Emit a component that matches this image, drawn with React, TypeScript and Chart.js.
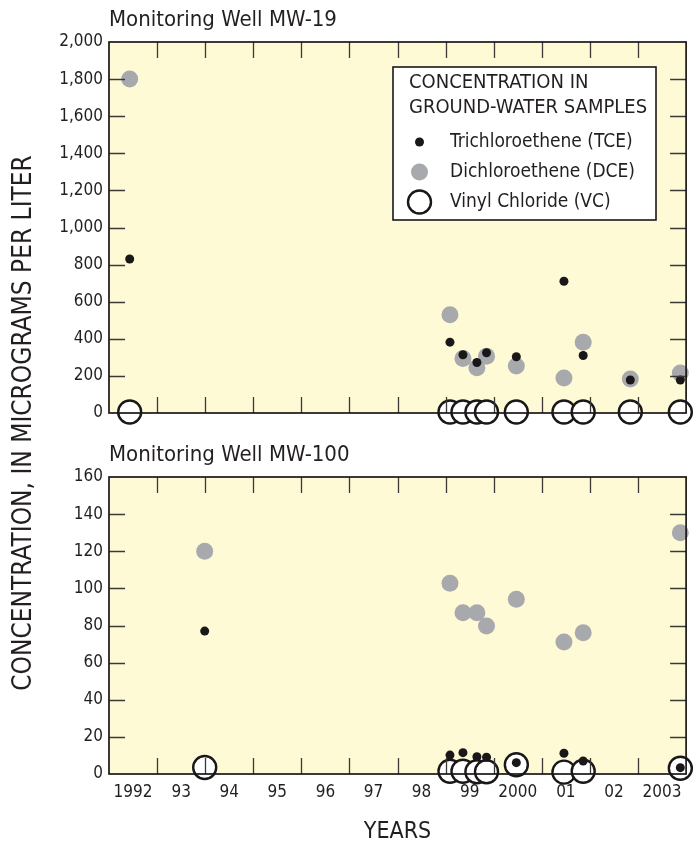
import React, { useEffect, useRef } from 'react';
import { Chart, registerables } from 'chart.js';

Chart.register(...registerables);

// ---------- DATA ----------
const mw19Years = [1992.43, 1999.09, 1999.36, 1999.65, 1999.85, 2000.47, 2001.46, 2001.86, 2002.84, 2003.88];
const mw19TCE = [830, 382, 314, 272, 325, 303, 710, 310, 178, 178];
const mw19DCE = [1800, 530, 294, 244, 306, 253, 189, 382, 183, 215];
const mw19VC = [5, 5, 5, 5, 5, 5, 5, 5, 5, 5];

const mw100Years = [1993.99, 1999.09, 1999.36, 1999.65, 1999.85, 2000.47, 2001.46, 2001.86, 2003.88];
const mw100TCE = [77, 10.2, 11.5, 9.3, 9.0, 6.1, 11.2, 7.0, 3.4];
const mw100DCE = [120, 102.7, 86.9, 86.9, 79.7, 94.1, 71.1, 76.1, 130];
const mw100VC = [3.5, 1.5, 1.5, 1.2, 1.2, 5.0, 1.0, 1.5, 3.1];

const yearBoundaries = [1992, 1993, 1994, 1995, 1996, 1997, 1998, 1999, 2000, 2001, 2002, 2003, 2004];
const xLabelYears = [1992, 1993, 1994, 1995, 1996, 1997, 1998, 1999, 2000, 2001, 2002, 2003];
const xTickLabels = ['1992', '93', '94', '95', '96', '97', '98', '99', '2000', '01', '02', '2003'];
const topYTicks = [0, 200, 400, 600, 800, 1000, 1200, 1400, 1600, 1800, 2000];
const bottomYTicks = [0, 20, 40, 60, 80, 100, 120, 140, 160];

const topTitle = 'Monitoring Well MW-19';
const bottomTitle = 'Monitoring Well MW-100';
const yAxisTitle = 'CONCENTRATION, IN MICROGRAMS PER LITER';
const xAxisTitle = 'YEARS';
const legendHeader = ['CONCENTRATION IN', 'GROUND-WATER SAMPLES'];
const legendLabels = ['Trichloroethene (TCE)', 'Dichloroethene (DCE)', 'Vinyl Chloride (VC)'];

// ---------- STYLE ----------
const FONT = '"Liberation Sans Narrow", "DejaVu Sans Condensed", "Arial Narrow", sans-serif';
const TEXT = '#231f20';
const BLACK = '#1a1718';
const GRAY = '#a7a9ac';
const BG = '#fffad6';
const TICK_LEN = 16;

Chart.defaults.font.family = FONT;
Chart.defaults.color = TEXT;

const fmt = (v: number) => String(v).replace(/\B(?=(\d{3})+(?!\d))/g, ',');
const pts = (xs: number[], ys: number[]) => xs.map((x, i) => ({ x, y: ys[i] }));

const markerStyles = [
  { r: 4.5, fill: BLACK, stroke: BLACK, bw: 0 },
  { r: 8.5, fill: GRAY, stroke: GRAY, bw: 0 },
  { r: 11.5, fill: '#ffffff', stroke: BLACK, bw: 2.4 },
];

function datasets(years: number[], tce: number[], dce: number[], vc: number[]) {
  const series = [tce, dce, vc];
  return series.map((s, i) => ({
    label: legendLabels[i],
    data: pts(years, s),
    pointRadius: markerStyles[i].r,
    pointHoverRadius: markerStyles[i].r,
    backgroundColor: markerStyles[i].fill,
    borderColor: markerStyles[i].stroke,
    borderWidth: markerStyles[i].bw,
    pointBorderWidth: markerStyles[i].bw,
    pointHoverBorderWidth: markerStyles[i].bw,
    clip: false as any,
  }));
}

const makeFramePlugin = (yTicks: number[], title: string) => ({
  id: 'frameTicks',
  beforeDatasetsDraw(chart: any) {
    const { ctx, chartArea: a } = chart;
    ctx.save();
    ctx.fillStyle = BG;
    ctx.fillRect(a.left, a.top, a.right - a.left, a.bottom - a.top);
    ctx.restore();
  },
  afterDatasetsDraw(chart: any) {
    const { ctx, chartArea: a, scales } = chart;
    const x = scales.x;
    const y = scales.y;
    ctx.save();
    ctx.strokeStyle = '#3b3838';
    ctx.lineWidth = 1.3;
    ctx.beginPath();
    for (const yr of yearBoundaries) {
      const px = Math.round(x.getPixelForValue(yr)) + 0.5;
      if (px <= a.left + 2 || px >= a.right - 2) continue;
      ctx.moveTo(px, a.bottom);
      ctx.lineTo(px, a.bottom - TICK_LEN);
      ctx.moveTo(px, a.top);
      ctx.lineTo(px, a.top + TICK_LEN);
    }
    for (const v of yTicks) {
      const py = Math.round(y.getPixelForValue(v)) + 0.5;
      if (py <= a.top + 2 || py >= a.bottom - 2) continue;
      ctx.moveTo(a.left, py);
      ctx.lineTo(a.left + TICK_LEN, py);
      ctx.moveTo(a.right, py);
      ctx.lineTo(a.right - TICK_LEN, py);
    }
    ctx.stroke();
    ctx.strokeStyle = BLACK;
    ctx.lineWidth = 1.7;
    ctx.strokeRect(a.left, a.top, a.right - a.left, a.bottom - a.top);
    // panel title
    ctx.fillStyle = TEXT;
    ctx.font = `22px ${FONT}`;
    ctx.textAlign = 'left';
    ctx.textBaseline = 'middle';
    ctx.fillText(title, a.left, a.top - 22);
    ctx.restore();
  },
});

const topDecorPlugin = {
  id: 'topDecor',
  afterDraw(chart: any) {
    const { ctx } = chart;
    ctx.save();
    // shared vertical axis title
    ctx.translate(24, 423);
    ctx.rotate(-Math.PI / 2);
    ctx.fillStyle = TEXT;
    ctx.font = `26px ${FONT}`;
    ctx.textAlign = 'center';
    ctx.textBaseline = 'middle';
    ctx.fillText(yAxisTitle, 0, 0);
    ctx.restore();

    // legend box
    ctx.save();
    const bx = 393, by = 67, bw = 263, bh = 153;
    ctx.fillStyle = '#ffffff';
    ctx.fillRect(bx, by, bw, bh);
    ctx.strokeStyle = BLACK;
    ctx.lineWidth = 1.6;
    ctx.strokeRect(bx, by, bw, bh);
    ctx.fillStyle = TEXT;
    ctx.font = `20px ${FONT}`;
    ctx.textAlign = 'left';
    ctx.textBaseline = 'middle';
    legendHeader.forEach((t, i) => ctx.fillText(t, 409, 83 + i * 25));
    ctx.font = `19px ${FONT}`;
    legendLabels.forEach((t, i) => {
      const cy = 142 + i * 30;
      const m = markerStyles[i];
      ctx.beginPath();
      ctx.arc(419.5, cy, m.r, 0, Math.PI * 2);
      ctx.fillStyle = m.fill;
      ctx.fill();
      if (m.bw > 0) {
        ctx.lineWidth = m.bw;
        ctx.strokeStyle = m.stroke;
        ctx.stroke();
      }
      ctx.fillStyle = TEXT;
      ctx.fillText(t, 450, cy);
    });
    ctx.restore();
  },
};

const yScale = (min: number, max: number, ticks: number[]) => ({
  type: 'linear' as const,
  min,
  max,
  afterBuildTicks: (s: any) => {
    s.ticks = ticks.map((v) => ({ value: v }));
  },
  ticks: {
    callback: (v: any) => fmt(Number(v)),
    font: { family: FONT, size: 17 },
    color: TEXT,
    padding: 6,
  },
  grid: { display: false, drawTicks: false },
  border: { display: false },
  afterFit: (s: any) => {
    s.width = 109;
  },
});

function topConfig(): any {
  return {
    type: 'scatter',
    data: { datasets: datasets(mw19Years, mw19TCE, mw19DCE, mw19VC) },
    options: {
      responsive: false,
      animation: false,
      devicePixelRatio: 1,
      events: [],
      layout: { padding: { left: 0, right: 13, top: 42, bottom: 432 } },
      plugins: { legend: { display: false }, tooltip: { enabled: false }, title: { display: false } },
      scales: {
        x: {
          type: 'linear',
          min: 1992,
          max: 2004,
          ticks: { display: false },
          grid: { display: false, drawTicks: false },
          border: { display: false },
          afterFit: (s: any) => {
            s.height = 0;
          },
        },
        y: yScale(0, 2000, topYTicks),
      },
    },
    plugins: [makeFramePlugin(topYTicks, topTitle), topDecorPlugin],
  };
}

function bottomConfig(): any {
  return {
    type: 'scatter',
    data: { datasets: datasets(mw100Years, mw100TCE, mw100DCE, mw100VC) },
    options: {
      responsive: false,
      animation: false,
      devicePixelRatio: 1,
      events: [],
      layout: { padding: { left: 0, right: 13, top: 477, bottom: 0 } },
      plugins: { legend: { display: false }, tooltip: { enabled: false }, title: { display: false } },
      scales: {
        x: {
          type: 'linear',
          min: 1992,
          max: 2004,
          afterBuildTicks: (s: any) => {
            s.ticks = xLabelYears.map((y) => ({ value: y + 0.5 }));
          },
          ticks: {
            callback: (_v: any, i: number) => xTickLabels[i],
            font: { family: FONT, size: 17 },
            color: TEXT,
            padding: 8,
            autoSkip: false,
            maxRotation: 0,
          },
          grid: { display: false, drawTicks: false },
          border: { display: false },
          title: {
            display: true,
            text: xAxisTitle,
            font: { family: FONT, size: 23, lineHeight: 1 },
            color: TEXT,
            padding: { top: 0, bottom: 1.5 },
          },
          afterFit: (s: any) => {
            s.height = 71;
          },
        },
        y: yScale(0, 160, bottomYTicks),
      },
    },
    plugins: [makeFramePlugin(bottomYTicks, bottomTitle)],
  };
}

export default function App() {
  const topRef = useRef<HTMLCanvasElement>(null);
  const botRef = useRef<HTMLCanvasElement>(null);
  useEffect(() => {
    const c1 = new Chart(topRef.current as HTMLCanvasElement, topConfig());
    const c2 = new Chart(botRef.current as HTMLCanvasElement, bottomConfig());
    return () => {
      c1.destroy();
      c2.destroy();
    };
  }, []);
  return (
    <div style={{ position: 'absolute', left: 0, top: 0, width: 700, height: 845, background: '#ffffff' }}>
      <canvas ref={topRef} width={700} height={845} style={{ position: 'absolute', left: 0, top: 0 }} />
      <canvas ref={botRef} width={700} height={845} style={{ position: 'absolute', left: 0, top: 0 }} />
    </div>
  );
}
